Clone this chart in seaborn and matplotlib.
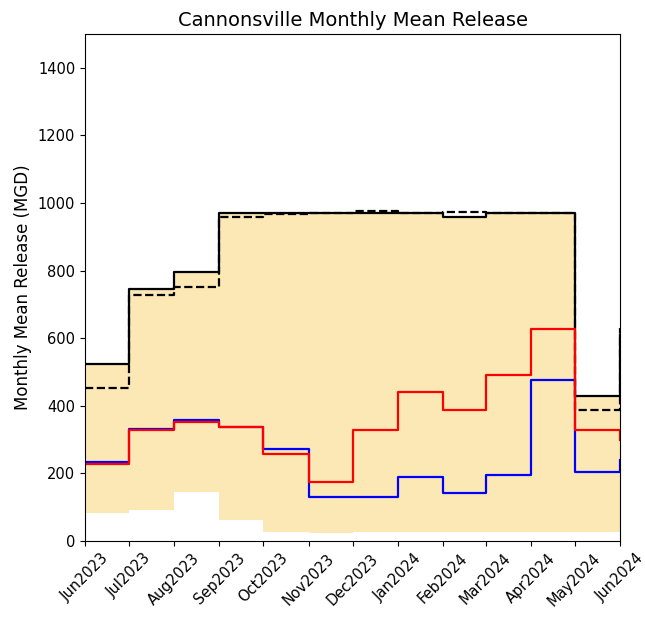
import numpy as np
import pandas as pd
import matplotlib
matplotlib.use("Agg")
import matplotlib.pyplot as plt
import matplotlib.dates as mdates
import seaborn as sns

months = ["2023-06", "2023-07", "2023-08", "2023-09", "2023-10", "2023-11", "2023-12",
          "2024-01", "2024-02", "2024-03", "2024-04", "2024-05", "2024-06"]
upper_solid = [525, 745, 795, 970, 970, 970, 970, 970, 958, 970, 970, 430, 610]
upper_dashed = [453, 728, 752, 960, 968, 970, 975, 970, 972, 970, 970, 388, 630]
red_vals = [228, 328, 352, 338, 257, 175, 328, 441, 388, 491, 626, 328, 300]
blue_vals = [235, 332, 358, 338, 272, 131, 131, 190, 143, 195, 476, 204, 240]
lower_band = [83, 92, 145, 62, 28, 25, 27, 27, 27, 27, 27, 27, 27]

dates = pd.to_datetime(months)
df = pd.DataFrame({"date": dates, "solid": upper_solid, "dashed": upper_dashed,
                   "red": red_vals, "blue": blue_vals, "lower": lower_band})

fig = plt.figure(figsize=(6.45, 6.21), dpi=100)
ax = fig.add_axes([85/645, 1-541/621, (620-85)/645, (541-34)/621])

ax.fill_between(df["date"], df["lower"], df["solid"], step="post",
                color="#fce8b4", linewidth=0)
sns.lineplot(data=df, x="date", y="solid", ax=ax, color="black", lw=1.6,
             drawstyle="steps-post")
sns.lineplot(data=df, x="date", y="dashed", ax=ax, color="black", lw=1.6,
             linestyle="--", drawstyle="steps-post")
sns.lineplot(data=df, x="date", y="blue", ax=ax, color="blue", lw=1.6,
             drawstyle="steps-post")
sns.lineplot(data=df, x="date", y="red", ax=ax, color="red", lw=1.6,
             drawstyle="steps-post")

ax.set_xlim(dates[0], dates[-1])
ax.set_ylim(0, 1500)
ax.set_yticks([0, 200, 400, 600, 800, 1000, 1200, 1400])
ax.xaxis.set_major_locator(mdates.MonthLocator())
ax.xaxis.set_major_formatter(mdates.DateFormatter("%b%Y"))
plt.setp(ax.get_xticklabels(), rotation=45, ha="center", fontsize=10.5)
ax.tick_params(axis="y", labelsize=10.5)
ax.set_xlabel("")
ax.set_ylabel("Monthly Mean Release (MGD)", fontsize=12)
ax.set_title("Cannonsville Monthly Mean Release", fontsize=14)

fig.savefig("out.png", dpi=100)
